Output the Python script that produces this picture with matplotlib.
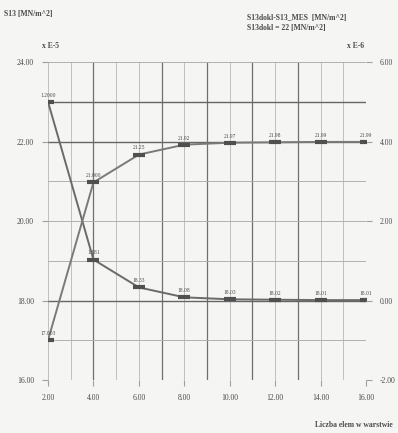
import matplotlib
matplotlib.use("Agg")
from matplotlib import pyplot as plt

# number of elements in layer
elements = [2, 4, 6, 8, 10, 12, 14, 16]
# S13 [MN/m^2] (left axis)
s13 = [23.00, 19.03, 18.33, 18.08, 18.03, 18.02, 18.01, 18.01]
s13_labels = ["1.2000", "1.181", "18.33", "18.08", "18.03", "18.02", "18.01", "18.01"]
# S13dokl - S13_MES [MN/m^2] (right axis)
diff = [-1.00, 2.97, 3.67, 3.92, 3.97, 3.98, 3.99, 3.99]
diff_labels = ["17.003", "21.000", "21.25", "21.92", "21.97", "21.98", "21.99", "21.99"]

x_ticks = [2, 4, 6, 8, 10, 12, 14, 16]
left_ticks = [16, 18, 20, 22, 24]
right_ticks = [-2, 0, 2, 4, 6]

ink = "#4a4a4a"
grey = "#a0a0a0"
plt.rcParams['font.family'] = ['Liberation Serif', 'DejaVu Serif']

fig = plt.figure(figsize=(3.98, 4.33), dpi=100)
fig.set_facecolor("#f5f5f3")
ax = fig.add_axes([0.1206, 0.1224, 0.7990, 0.7344])
ax.set_facecolor("#f5f5f3")
ax.set_xlim(2, 16)
ax.set_ylim(16, 24)

# grid
for xv in range(2, 17):
    dark = xv in (4, 7, 9, 11, 13)
    ax.axvline(xv, color="#6e6e6e" if dark else "#c0c0c0",
               lw=0.9 if dark else 0.7, zorder=1)
for yv in range(16, 25):
    dark = yv in (18, 22, 23)
    ax.axhline(yv, color="#666666" if dark else "#b0b0b0",
               lw=1.0 if dark else 0.7, zorder=1)
for sp in ax.spines.values():
    sp.set_visible(False)

ax.set_xticks(x_ticks)
ax.set_xticklabels(["%.2f" % v for v in x_ticks])
ax.set_yticks(left_ticks)
ax.set_yticklabels(["%.2f" % v for v in left_ticks])
ax.tick_params(length=4, width=0.8, color=grey, labelsize=5.5,
               labelcolor=ink, pad=6)

ax2 = ax.twinx()
ax2.set_ylim(-2, 6)
ax2.set_yticks(right_ticks)
ax2.set_yticklabels(["%.2f" % v for v in right_ticks])
ax2.tick_params(length=4, width=0.8, color=grey, labelsize=5.5,
                labelcolor=ink, pad=6)
for sp in ax2.spines.values():
    sp.set_visible(False)

ax.plot(elements, s13, color="#6a6a6a", lw=1.4, zorder=3)
ax.plot(elements, s13, ls="none", marker="_", ms=9, mew=3, color="#505050", zorder=4)
ax2.plot(elements, diff, color="#7a7a7a", lw=1.4, zorder=3)
ax2.plot(elements, diff, ls="none", marker="_", ms=9, mew=3, color="#505050", zorder=4)

for xv, yv, lab in zip(elements, s13, s13_labels):
    ax.annotate(lab, (xv, yv), xytext=(0, 3), textcoords="offset points",
                ha="center", va="bottom", fontsize=4, color=ink, zorder=5)
for xv, yv, lab in zip(elements, diff, diff_labels):
    ax2.annotate(lab, (xv, yv), xytext=(0, 3), textcoords="offset points",
                 ha="center", va="bottom", fontsize=4, color=ink, zorder=5)

fig.text(4 / 398, 1 - 16 / 433, "S13 [MN/m^2]", fontsize=5.5, weight="bold", color=ink)
fig.text(42 / 398, 1 - 48 / 433, "x E-5", fontsize=5.5, weight="bold", color=ink)
fig.text(247 / 398, 1 - 20 / 433, "S13dokl-S13_MES  [MN/m^2]", fontsize=5.5,
         weight="bold", color=ink)
fig.text(247 / 398, 1 - 30 / 433, "S13dokl = 22 [MN/m^2]", fontsize=5.5,
         weight="bold", color=ink)
fig.text(347 / 398, 1 - 48 / 433, "x E-6", fontsize=5.5, weight="bold", color=ink)
fig.text(393 / 398, 1 - 427 / 433, "Liczba elem w warstwie", fontsize=5.5,
         weight="bold", color=ink, ha="right")

fig.savefig("out.png", dpi=100, facecolor=fig.get_facecolor())
